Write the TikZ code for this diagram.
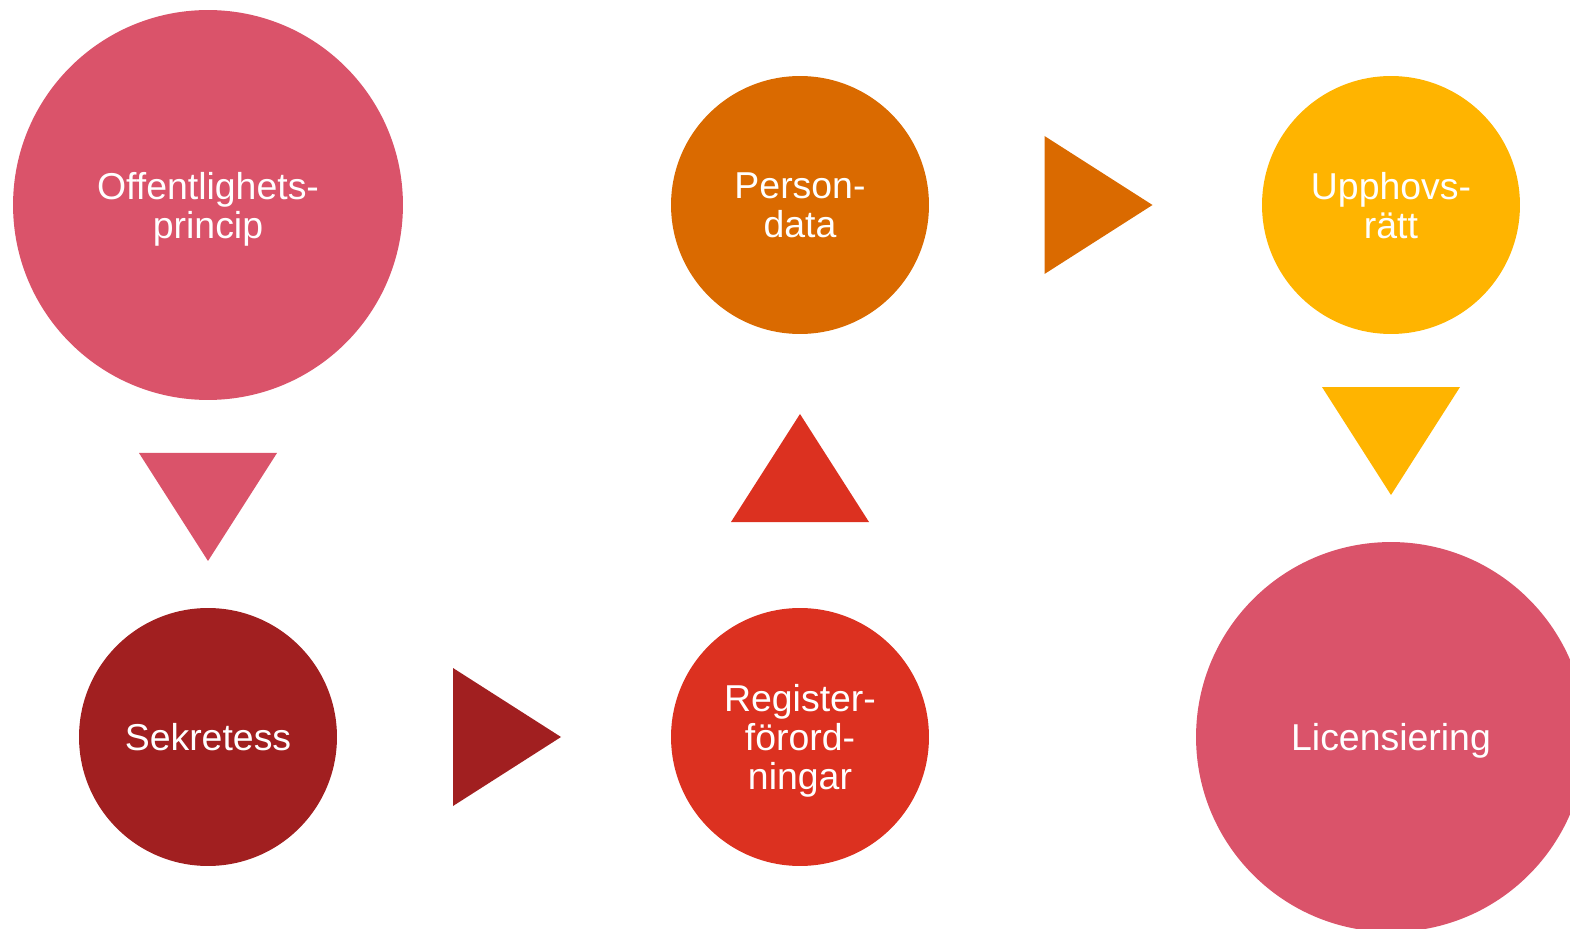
\documentclass[tikz,border=0pt]{standalone}
\usepackage{fontspec}
\setmainfont{Liberation Sans}
\usetikzlibrary{calc,positioning}
\definecolor{lawpink}{RGB}{218, 83, 106}
\definecolor{lawdarkred}{RGB}{161, 31, 32}
\definecolor{lawred}{RGB}{220, 49, 32}
\definecolor{laworange}{RGB}{218, 106, 0}
\definecolor{lawyellow}{RGB}{255, 180, 0}

\begin{document}
\begin{tikzpicture}[x=0.02cm, y=0.02cm,
		% Node styles
		topic/.style={circle, fill=#1, text=white, inner sep=0pt, minimum size=5.16cm,
				align=center, text depth=0pt, font=\fontsize{21.3}{22.2}\selectfont},
		bigtopic/.style={topic=#1, minimum size=7.8cm},
		pointer/.style={fill=#1}
	]

	\useasboundingbox (0,0) rectangle (1570,-929);
	\clip (0,0) rectangle (1570,-929);

	% Circles
	\node[bigtopic=lawpink] (offent) at (208,-205) {Offentlighets-\\princip};
	\node[topic=lawdarkred] (sekr) at (208,-737) {Sekretess};
	\node[topic=lawred] (register) at (800,-737) {Register-\\förord-\\ningar};
	\node[topic=laworange] (person) at (800,-205) {Person-\\data};
	\node[topic=lawyellow] (upphovs) at (1391,-205) {Upphovs-\\rätt};
	\node[bigtopic=lawpink] (licens) at (1391,-737) {Licensiering};

	% Pointers between circles
	\coordinate (p1) at ($(offent.south)!0.5!(sekr.north)$);
	\fill[pointer=lawpink] ($(p1)+(-69,51)$) -- ($(p1)+(69,51)$) -- ($(p1)+(0,-57)$) -- cycle;

	\coordinate (p2) at ($(sekr.east)!0.5!(register.west)$);
	\fill[pointer=lawdarkred] ($(p2)+(-51,69)$) -- ($(p2)+(-51,-69)$) -- ($(p2)+(57,0)$) -- cycle;

	\coordinate (p3) at ($(register.north)!0.5!(person.south)$);
	\fill[pointer=lawred] ($(p3)+(-69,-51)$) -- ($(p3)+(69,-51)$) -- ($(p3)+(0,57)$) -- cycle;

	\coordinate (p4) at ($(person.east)!0.5!(upphovs.west)$);
	\fill[pointer=laworange] ($(p4)+(-51,69)$) -- ($(p4)+(-51,-69)$) -- ($(p4)+(57,0)$) -- cycle;

	\coordinate (p5) at ($(upphovs.south)!0.5!(licens.north)$);
	\fill[pointer=lawyellow] ($(p5)+(-69,51)$) -- ($(p5)+(69,51)$) -- ($(p5)+(0,-57)$) -- cycle;

\end{tikzpicture}
\end{document}
